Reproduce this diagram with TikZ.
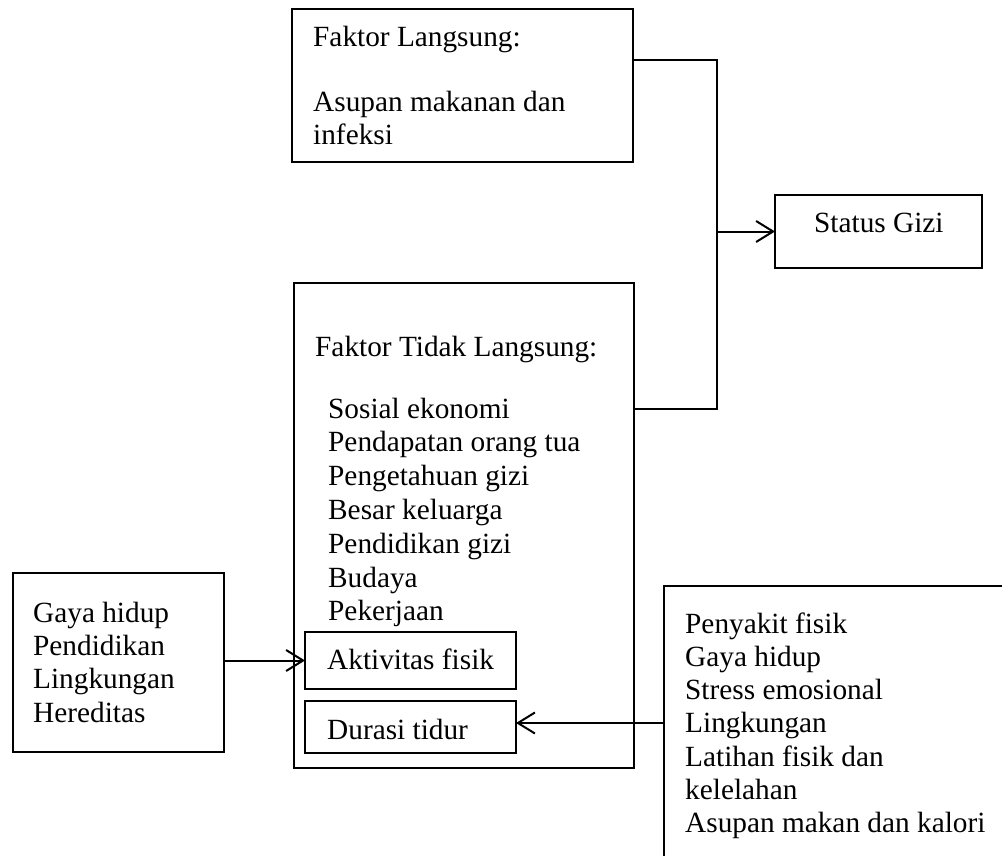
\documentclass[tikz,border=0pt]{standalone}
\usepackage{fontspec}
\setmainfont{Liberation Serif}
\usetikzlibrary{arrows.meta}
\begin{document}
\begin{tikzpicture}[x=1pt,y=-1pt,
  box/.style={draw=black, line width=2pt, rectangle, inner sep=0pt, outer sep=0pt},
  txt/.style={anchor=base west, inner sep=0pt, font=\fontsize{29.3}{33.8}\selectfont},
  conn/.style={draw=black, line width=2pt},
  arr/.style={conn, -{Straight Barb[length=17pt,width=21pt,line width=2pt]}}]
\useasboundingbox (0,0) rectangle (1002,856);
\clip (0,0) rectangle (1002,856);

% boxes
\node[box, minimum width=341pt, minimum height=153pt] (A) at (462.5,85.5) {};
\node[box, minimum width=340pt, minimum height=485pt] (B) at (464,525.5) {};
\node[box, minimum width=211pt, minimum height=57pt] (Akt) at (410.5,660.5) {};
\node[box, minimum width=211pt, minimum height=52pt] (Dur) at (410.5,727) {};
\node[box, minimum width=211pt, minimum height=179pt] (C) at (118.5,662.5) {};
\node[box, minimum width=207pt, minimum height=73pt] (S) at (878.5,231.5) {};
\node[box, minimum width=356pt, minimum height=294pt] (R) at (842,733) {};

% texts
\node[txt] (a1) at (313,47) {Faktor Langsung:};
\node[txt] (a2) at (313,112) {Asupan makanan dan};
\node[txt] (a3) at (313,145) {infeksi};

\node[txt] (bh) at (315,356) {Faktor Tidak Langsung:};
\foreach \t [count=\i from 0] in {Sosial ekonomi, Pendapatan orang tua, Pengetahuan gizi, Besar keluarga, Pendidikan gizi, Budaya, Pekerjaan}
  \node[txt] (b\i) at ({328},{418+33.83*\i}) {\t};
\node[txt] (akt) at (327,669) {Aktivitas fisik};
\node[txt] (dur) at (327,739) {Durasi tidur};

\foreach \t [count=\i from 0] in {Gaya hidup, Pendidikan, Lingkungan, Hereditas}
  \node[txt] (c\i) at ({33},{622+33.4*\i}) {\t};

\node[txt] (s1) at (814,233) {Status Gizi};

\foreach \t [count=\i from 0] in {Penyakit fisik, Gaya hidup, Stress emosional, Lingkungan, Latihan fisik dan, kelelahan, Asupan makan dan kalori}
  \node[txt] (r\i) at ({685},{633+33.33*\i}) {\t};

% connectors
\coordinate (J1) at (717,60);
\coordinate (J2) at (717,409);
\coordinate (J3) at (717,231.5);
\draw[conn] (A.east |- J1) -- (J1) -- (J2) -- (B.east |- J2);
\draw[arr] (J3) -- (S.west);
\draw[arr] (C.east |- Akt.west) -- (Akt.west);
\coordinate (K1) at (664,723);
\draw[arr] (K1) -- (Dur.east |- K1);
\end{tikzpicture}
\end{document}
